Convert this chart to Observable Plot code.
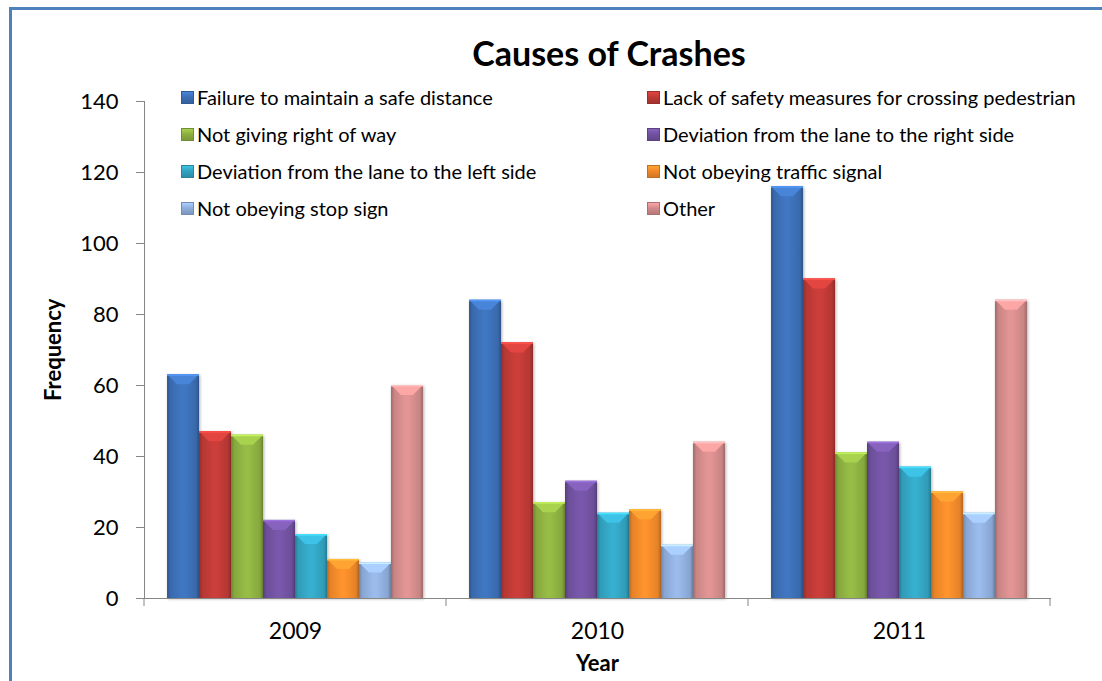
<!DOCTYPE html>
<html>
<head>
<meta charset="utf-8">
<script src="https://cdn.jsdelivr.net/npm/d3@7"></script>
<script src="https://cdn.jsdelivr.net/npm/@observablehq/plot@0.6"></script>
<style>
  html, body { margin: 0; padding: 0; background: #fff; overflow: hidden; }
  #wrap { position: relative; width: 1102px; height: 681px; font-family: Lato, "Open Sans", sans-serif; }
  #border { position: absolute; left: 9px; top: 7px; width: 1200px; height: 800px;
            border-left: 3px solid #4F81BD; border-top: 3px solid #4F81BD; box-sizing: border-box; }
  #title { position: absolute; left: 609px; top: 34px; transform: translateX(-50%);
           font-size: 34px; line-height: 38px; font-weight: bold; white-space: nowrap; color: #000; }
  .lg-mark { position: absolute; width: 13px; height: 13px; box-sizing: border-box; }
  .lg-text { position: absolute; font-size: 20px; line-height: 24px; white-space: nowrap; color: #000; }
  #chart { position: absolute; left: 0; top: 0; }
</style>
</head>
<body>
<div id="wrap">
  <div id="border"></div>
  <div id="chart"></div>
  <div id="title">Causes of Crashes</div>
  <div id="legend"></div>
</div>
<script>
// ---- data ----
const years = ["2009", "2010", "2011"];
const causes = [
  "Failure to maintain a safe distance",
  "Lack of safety measures for crossing pedestrian",
  "Not giving right of way",
  "Deviation from the lane to the right side",
  "Deviation from the lane to the left side",
  "Not obeying traffic signal",
  "Not obeying stop sign",
  "Other"
];
const values2009 = [63, 47, 46, 22, 18, 11, 10, 60];
const values2010 = [84, 72, 27, 33, 24, 25, 15, 44];
const values2011 = [116, 90, 41, 44, 37, 30, 24, 84];
const colors = ["#3C6FB5", "#BE3A36", "#8DB041", "#7152A0", "#33A3C1", "#F2892A", "#8FAEDC", "#D38B8B"];
const yTicks = [0, 20, 40, 60, 80, 100, 120, 140];

const seriesByYear = [values2009, values2010, values2011];
const data = years.flatMap((yr, j) =>
  causes.map((c, i) => ({ year: yr, cause: c, idx: i, value: seriesByYear[j][i] }))
);

const gray = "#868686";

const chart = Plot.plot({
  width: 1102,
  height: 681,
  marginLeft: 144,
  marginRight: 52,
  marginTop: 101,
  marginBottom: 83,
  style: { fontFamily: "Lato, 'Open Sans', sans-serif", fontSize: "22px", color: "#000", background: "transparent", overflow: "visible" },
  fx: { domain: years, padding: 0, label: null },
  x: { domain: causes, paddingInner: 0, paddingOuter: 0.72, axis: null, round: false },
  y: { domain: [0, 140], axis: null },
  marks: [
    ...causes.map((c, i) =>
      Plot.barY(data.filter(d => d.idx === i), { fx: "year", x: "cause", y: "value", fill: `url(#grad${i})` })
    ),
    Plot.frame({ anchor: "left", stroke: gray, facet: "super" }),
    Plot.frame({ anchor: "bottom", stroke: gray, facet: "super" }),
    Plot.axisY({ ticks: yTicks, tickSize: 8, text: null, label: null, stroke: gray }),
    Plot.axisY({ ticks: yTicks, tickSize: 0, tickPadding: 26, label: null, fontSize: 22 }),
    Plot.axisFx({ anchor: "bottom", tickSize: 0, tickPadding: 24, label: null, fontSize: 23 }),
    Plot.text(["Frequency"], { frameAnchor: "left", dx: -91, dy: 51, rotate: -90, fontWeight: "bold", fontSize: 22, facet: "super" }),
    Plot.text(["Year"], { frameAnchor: "bottom", dy: 72, fontWeight: "bold", fontSize: 22, facet: "super" })
  ]
});

document.getElementById("chart").appendChild(chart);

// gradients for the bevelled bars
const svg = d3.select(chart);
const defs = svg.insert("defs", ":first-child");
colors.forEach((c, i) => {
  const base = d3.color(c);
  const g = defs.append("linearGradient").attr("id", `grad${i}`).attr("x1", 0).attr("x2", 1).attr("y1", 0).attr("y2", 0);
  [[0, base.darker(0.8)], [0.1, base.darker(0.15)], [0.45, base.brighter(0.2)], [0.55, base.brighter(0.2)], [0.9, base.darker(0.15)], [1, base.darker(0.8)]]
    .forEach(([o, col]) => g.append("stop").attr("offset", o).attr("stop-color", col.formatHex()));
});

// bevelled tops of the bars
function findFill(el) {
  while (el && el.getAttribute) {
    const f = el.getAttribute("fill");
    if (f && /grad\d+/.test(f)) return f;
    el = el.parentNode;
  }
  return null;
}
const rects = Array.from(chart.querySelectorAll("rect"));
rects.forEach(rect => {
  const f = findFill(rect);
  if (!f) return;
  const idx = +f.match(/grad(\d+)/)[1];
  const base = d3.color(colors[idx]);
  const x = +rect.getAttribute("x"), y = +rect.getAttribute("y");
  const w = +rect.getAttribute("width"), h = +rect.getAttribute("height");
  if (!(w > 0) || !(h > 0)) return;
  const parent = d3.select(rect.parentNode);
  rect.setAttribute("fill", f);
  rect.style.filter = "drop-shadow(1.5px 1.5px 1.5px rgba(0,0,0,0.3))";
  const b = Math.min(10, h / 2);
  parent.append("polygon")
    .attr("points", `${x},${y} ${x + w},${y} ${x + w - b},${y + b} ${x + b},${y + b}`)
    .attr("fill", base.brighter(0.5).formatHex());
  parent.append("rect").attr("x", x).attr("y", y).attr("width", w).attr("height", 1.5)
    .attr("fill", base.brighter(0.9).formatHex());
});

// group boundary ticks on the x axis
const fx = chart.scale("fx");
const y0 = chart.scale("y").apply(0);
const edges = fx.domain.map(d => fx.apply(d)).concat([fx.apply(fx.domain[fx.domain.length - 1]) + fx.bandwidth]);
svg.append("g").attr("stroke", gray)
  .selectAll("line").data(edges).join("line")
  .attr("x1", d => d).attr("x2", d => d).attr("y1", y0).attr("y2", y0 + 8);

// legend
const legend = document.getElementById("legend");
const rowCenters = [97, 134, 171, 208];
causes.forEach((c, i) => {
  const col = i % 2, row = Math.floor(i / 2);
  const mx = col === 0 ? 181 : 647;
  const cy = rowCenters[row];
  const base = d3.color(colors[i]);
  const mk = document.createElement("div");
  mk.className = "lg-mark";
  mk.style.left = mx + "px";
  mk.style.top = (cy - 6.5) + "px";
  mk.style.background = `linear-gradient(to bottom, ${base.brighter(0.5).formatHex()} 0%, ${base.formatHex()} 45%, ${base.darker(0.4).formatHex()} 100%)`;
  mk.style.border = `1px solid ${base.darker(0.6).formatHex()}`;
  legend.appendChild(mk);
  const tx = document.createElement("div");
  tx.className = "lg-text";
  tx.style.left = (mx + 16) + "px";
  tx.style.top = (cy - 12) + "px";
  tx.textContent = c;
  legend.appendChild(tx);
});
</script>
</body>
</html>
